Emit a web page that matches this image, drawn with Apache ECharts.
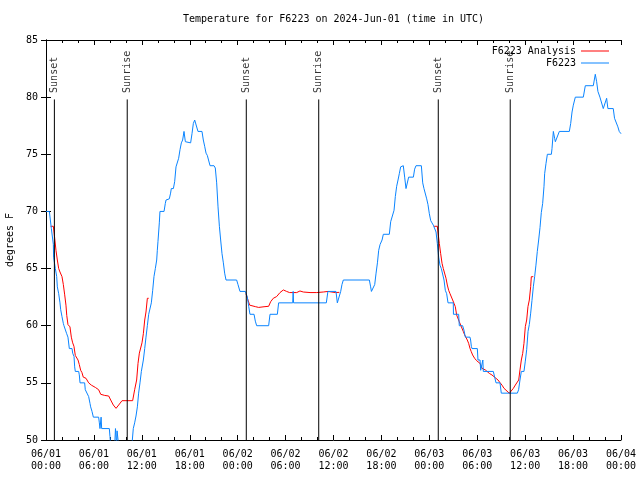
<!DOCTYPE html>
<html>
<head>
<meta charset="utf-8">
<script src="https://cdn.jsdelivr.net/npm/echarts@6/dist/echarts.min.js"></script>
<style>html,body{margin:0;padding:0;background:#fff}#c{width:640px;height:480px}</style>
</head>
<body>
<div id="c"></div>
<script>
const xTickLabels = ['06/01\n00:00','06/01\n06:00','06/01\n12:00','06/01\n18:00','06/02\n00:00','06/02\n06:00','06/02\n12:00','06/02\n18:00','06/03\n00:00','06/03\n06:00','06/03\n12:00','06/03\n18:00','06/04\n00:00'];

const sunHours = [1.05, 10.17, 25.08, 34.15, 49.12, 58.13];
const sunNames = ['Sunset','Sunrise','Sunset','Sunrise','Sunset','Sunrise'];

// F6223 observations (hours since 06/01 00:00 UTC, degrees F)
const obsHours = [0.0,0.42,0.67,0.92,0.95,1.09,1.17,1.34,1.42,1.59,1.75,1.84,2.0,2.17,2.25,2.5,2.59,2.75,2.92,3.26,3.34,3.51,3.59,3.67,4.09,4.17,4.26,4.84,4.92,5.34,5.51,5.59,5.76,5.93,6.59,6.68,6.76,6.84,6.9,6.97,7.93,8.01,8.1,8.6,8.7,8.8,8.85,8.9,8.95,9.1,10.75,10.93,11.1,11.27,11.44,11.6,11.77,11.94,12.19,12.36,12.52,12.69,12.86,13.02,13.19,13.36,13.52,13.69,13.86,13.94,14.02,14.19,14.27,14.78,14.94,15.03,15.44,15.6,15.69,15.95,16.11,16.28,16.45,16.61,16.78,16.95,17.11,17.28,17.45,18.11,18.28,18.45,18.62,18.87,19.03,19.53,19.7,19.87,20.04,20.2,20.37,20.54,21.04,21.2,21.37,21.54,21.71,21.87,22.04,22.21,22.37,22.54,23.87,24.04,24.29,24.96,25.21,25.38,25.54,26.05,26.21,26.38,27.88,28.05,28.97,29.13,30.89,30.95,31.0,35.1,35.3,36.31,36.48,36.73,36.9,37.06,37.23,40.49,40.65,40.75,41.0,41.16,41.33,41.5,41.66,41.83,42.08,42.24,42.99,43.16,43.4,43.58,43.74,43.91,44.08,44.24,44.41,44.58,44.74,44.91,45.08,45.25,45.41,46.0,46.16,46.33,47.0,47.17,47.33,47.5,47.67,47.83,48.0,48.17,48.33,48.5,48.66,48.84,49.0,49.17,49.33,49.5,49.67,49.84,50.0,50.17,50.34,51.0,51.02,51.67,51.75,52.17,52.34,52.51,53.09,53.17,53.26,53.34,54.01,54.09,54.35,54.43,54.6,54.7,54.76,56.01,56.18,56.35,56.85,57.01,59.02,59.18,59.35,59.52,59.85,60.02,60.19,60.36,60.52,60.69,60.85,61.02,61.19,61.35,61.52,61.69,61.86,62.02,62.19,62.36,62.44,62.61,62.78,63.28,63.36,63.53,63.69,63.78,64.03,64.28,65.53,65.7,65.87,66.03,66.28,67.28,67.53,68.53,68.78,68.95,69.11,69.36,69.53,69.78,70.03,70.2,70.36,71.03,71.19,71.44,71.61,71.78,72.0];
const obsTemps = [70,70,68.5,67.1,66.0,65.9,65.0,64.3,63.4,62.8,62.0,61.4,60.8,60.2,60,60,59.3,59,58,58,57.6,57.3,56.4,56,56,55.7,55,55,54.4,53.8,53.2,52.9,52.5,52,52,51.5,51,51,52,51,51,50.3,49.5,49.5,51,51,49.5,50.8,50.8,49.5,49.5,51,51.5,52.1,52.9,54.1,55,56,57,58,59,60,61,61.1,62,63.1,64.3,65,65.75,66.6,67.35,69,70,70,70.7,71,71.1,71.6,72,72,72.6,73.9,74,74.65,75.4,76,76.25,77,76.1,76,76.8,77.7,78,78,77,77,76.25,75.7,75.1,74.9,74.8,74,74,73.8,72.5,70.4,68.7,67.5,66.3,65.5,64.6,64,64,63.6,63,63,62.5,61.7,61,61,60.4,60,60,61,61,62,62,63,62,62,63,63,62,62,63,63.6,64,64,63.4,63,63,63.6,64.6,65.5,66.6,67.1,67.5,68,68,69.1,69.25,70.1,71.3,72.2,72.75,73.3,73.9,74,74,73,72,72,73,73,73.7,74,74,72.5,72,71.9,71.1,70.6,69.8,69.2,69,68.8,68.7,68.2,67.2,66,65.3,65,65,64,63.1,62.8,62,62,61,61,60,60,59.6,59,59,58.75,58.2,58,58,57,57,56.1,56,57,56,56,55.5,55,55,54.1,54.1,54.4,55.25,56,56,56.9,57.9,59.5,60.1,61.1,62.2,63.4,64.3,65.3,66.5,67.5,68.6,69.9,70.7,72.2,73.3,74.2,75,75,75.5,77,76.4,76.1,76.1,77,77,77.7,78.7,79.3,80,80,81,81,82,81.35,80.5,80,79.9,79,79,79.9,79,79,78.15,78,77.4,77,76.8];

// F6223 Analysis (null = gap)
const anaHours = [0.58,0.92,1.09,1.25,1.42,1.59,1.75,1.9,2.0,2.17,2.34,2.5,2.6,2.75,3.0,3.17,3.34,3.5,3.67,3.84,4.01,4.17,4.34,4.5,4.67,5.01,5.34,5.68,6.18,6.59,6.85,7.35,7.85,8.1,8.43,8.77,9.1,9.52,10.85,11.1,11.35,11.52,11.69,11.85,12.02,12.19,12.36,12.52,12.69,12.86,18,
 25.04,25.29,25.5,26.21,26.63,27.3,27.88,28.13,28.46,28.88,29.3,29.72,30.13,30.5,31.39,31.8,32.22,33.06,33.9,34.72,35.31,36.23,36.73,42,
 48.6,49.0,49.08,49.25,49.42,49.59,49.75,49.92,50.09,50.25,50.42,50.59,50.75,50.92,51.09,51.25,51.42,51.59,51.75,51.92,52.09,52.25,52.42,52.59,52.75,52.92,53.09,53.25,53.42,53.67,53.92,54.34,54.59,54.84,55.01,55.25,55.51,55.84,56.1,56.6,56.85,57.1,57.35,57.6,58.02,58.19,58.52,58.77,59.02,59.19,59.35,59.52,59.69,59.85,60.02,60.19,60.35,60.52,60.69,60.77,61.02];
const anaTemps = [68.7,68.7,67.65,66.6,65.75,65,64.7,64.6,64.3,63.6,62.7,61.8,60.9,60.1,59.9,59,58.5,58.2,57.4,57.3,57,56.6,56.1,55.9,55.5,55.4,55,54.8,54.6,54.4,54,53.9,53.85,53.5,53.06,52.77,53.06,53.44,53.44,54.4,55.25,56.7,57.6,57.7,58.5,59.3,60.5,61.2,62.4,62.4,null,
 62.8,62.25,61.8,61.67,61.6,61.66,61.7,62.1,62.4,62.55,62.9,63.13,63,62.9,62.9,63.04,62.95,62.9,62.9,62.95,63,62.9,62.92,null,
 68.7,68.7,68.2,67.2,66.3,65.46,65,64.9,64.15,63.56,63.1,62.8,62.7,62.25,61.96,61.67,60.94,60.8,60.35,60.06,59.9,59.5,59.2,59.04,58.75,58.46,58.02,57.73,57.44,57.15,56.94,56.71,56.27,56.27,56.13,55.98,55.83,55.69,55.54,55.25,55.02,54.8,54.52,54.38,54.09,54.14,54.52,54.81,54.81,55.25,56.13,57.0,57.58,58.46,59.92,60.5,61.67,62.25,63.42,64.29,64.29];

const sunLineTop = 79.8, sunLineBottom = 50;

const FONT = 'DejaVu Sans Mono';
const obsData = obsHours.map((h, i) => [h, obsTemps[i]]);
const anaData = anaHours.map((h, i) => [h, anaTemps[i] === null ? NaN : anaTemps[i]]);
const sunLineData = [];
sunHours.forEach(h => { sunLineData.push([h, sunLineBottom], [h, sunLineTop], [h, NaN]); });
const sunLabelData = sunHours.map(h => [h, sunLineTop]);

const chart = echarts.init(document.getElementById('c'), null, {renderer: 'canvas'});
const xCommon = {
  type: 'value', min: 0, max: 72, interval: 6,
  axisLine: {show: true, lineStyle: {color: '#000', width: 1}},
  axisTick: {show: true, inside: true, length: 5, lineStyle: {color: '#000'}},
  minorTick: {show: true, splitNumber: 3, length: 3, lineStyle: {color: '#000'}},
  splitLine: {show: false}
};
const yCommon = {
  type: 'value', min: 50, max: 85, interval: 5,
  axisLine: {show: true, lineStyle: {color: '#000', width: 1}},
  axisTick: {show: true, inside: true, length: 5, lineStyle: {color: '#000'}},
  splitLine: {show: false}
};
chart.setOption({
  animation: false,
  backgroundColor: '#fff',
  textStyle: {fontFamily: FONT},
  title: {
    text: 'Temperature for F6223 on 2024-Jun-01 (time in UTC)',
    left: 183, top: 14, padding: 0,
    textStyle: {fontFamily: FONT, fontSize: 10, fontWeight: 'normal', color: '#000'}
  },
  legend: {
    data: ['F6223 Analysis', 'F6223'],
    orient: 'vertical', align: 'right', icon: 'rect',
    right: 31, top: 45, padding: 0, itemGap: 0,
    itemWidth: 28, itemHeight: 1,
    textStyle: {fontFamily: FONT, fontSize: 10, color: '#000', lineHeight: 12}
  },
  grid: {left: 46, right: 19, top: 40, bottom: 40, containLabel: false, outerBoundsMode: 'none'},
  xAxis: [
    Object.assign({}, xCommon, {
      position: 'bottom',
      axisLabel: {
        show: true, margin: 8, fontFamily: FONT, fontSize: 10, color: '#000', lineHeight: 12,
        formatter: v => xTickLabels[Math.round(v / 6)] || ''
      }
    }),
    Object.assign({}, xCommon, {position: 'top', axisLabel: {show: false}})
  ],
  yAxis: [
    Object.assign({}, yCommon, {
      position: 'left',
      name: 'degrees F', nameLocation: 'middle', nameGap: 30, nameRotate: 90,
      nameTextStyle: {fontFamily: FONT, fontSize: 10, color: '#000'},
      axisLabel: {show: true, margin: 8, fontFamily: FONT, fontSize: 10, color: '#000'}
    }),
    Object.assign({}, yCommon, {position: 'right', axisLabel: {show: false}})
  ],
  series: [
    {
      name: 'F6223 Analysis', type: 'line', data: anaData, symbol: 'none', connectNulls: false,
      lineStyle: {color: '#ff0000', width: 1}, itemStyle: {color: '#ff0000'}, z: 2
    },
    {
      name: 'F6223', type: 'line', data: obsData, symbol: 'none',
      lineStyle: {color: '#0a84ff', width: 1}, itemStyle: {color: '#0a84ff'}, z: 3
    },
    {
      name: 'sun', type: 'line', data: sunLineData, symbol: 'none', connectNulls: false, silent: true,
      lineStyle: {color: '#000', width: 1}, itemStyle: {color: '#000'}, z: 4
    },
    {
      name: 'sunLabels', type: 'scatter', data: sunLabelData, symbolSize: 1, silent: true,
      itemStyle: {color: 'rgba(0,0,0,0)'},
      label: {
        show: true, position: 'top', distance: 6, rotate: 90, align: 'left', verticalAlign: 'middle',
        fontFamily: FONT, fontSize: 10, color: '#000',
        formatter: p => sunNames[p.dataIndex]
      },
      z: 4
    }
  ]
});
</script>
</body>
</html>
